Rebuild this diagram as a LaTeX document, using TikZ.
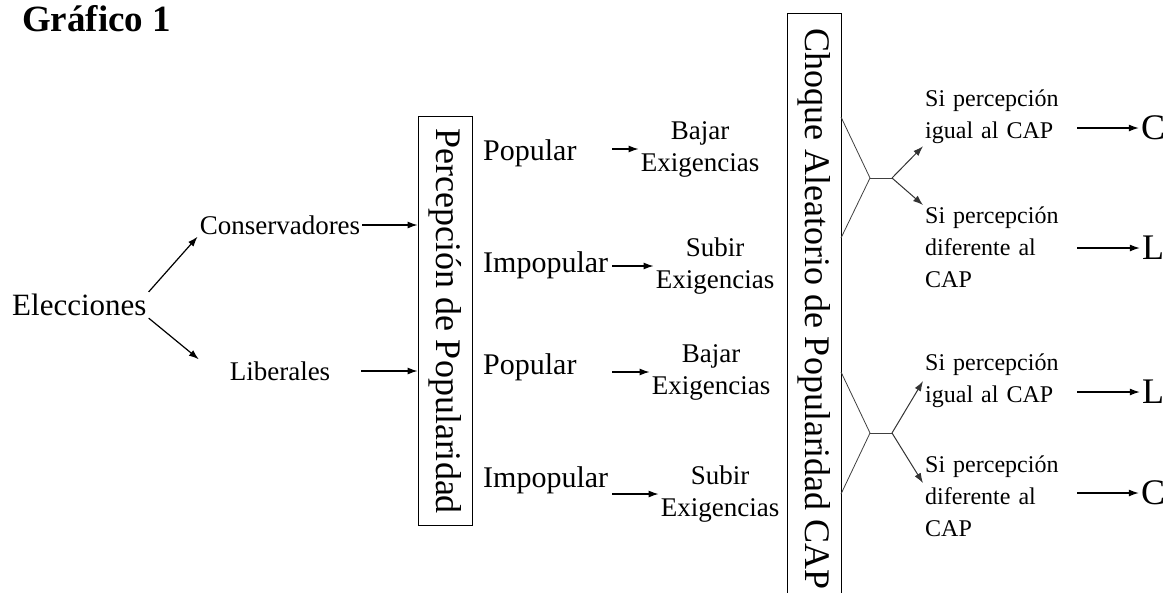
\documentclass[tikz,border=0pt]{standalone}
\usepackage{fontspec}
\setmainfont{Liberation Serif}
\usetikzlibrary{arrows.meta,positioning}

\begin{document}
\begin{tikzpicture}[
    x=1pt, y=-1pt,
    partido/.style={inner sep=2pt, minimum width=162pt, font=\fontsize{27}{32}\selectfont},
    caja/.style={draw, rotate=-90, line width=0.8pt, minimum height=54pt, inner sep=0pt, font=\fontsize{36}{40}\selectfont},
    estado/.style={anchor=west, inner sep=2pt, text width=127pt, align=left, font=\fontsize{30}{36}\selectfont},
    exig/.style={inner sep=2pt, align=center, font=\fontsize{27}{32}\selectfont},
    cond/.style={anchor=north west, inner sep=2pt, text width=150pt, align=left, font=\fontsize{24}{32}\selectfont},
    letra/.style={inner sep=2pt, font=\fontsize{36}{40}\selectfont},
    flecha/.style={-{Latex[length=10pt,width=7pt]}, line width=1.2pt},
    rama/.style={line width=0.8pt, black!75}
]
\useasboundingbox (0,0) rectangle (1172,592);
\clip (0,0) rectangle (1172,592);

% Titulo
\node[anchor=west, inner sep=0pt, font=\fontsize{37}{40}\selectfont\bfseries] (titulo) at (22,19) {Gráfico 1};

% Elecciones
\node[anchor=west, inner sep=2pt, font=\fontsize{31}{36}\selectfont] (elec) at (10,305) {Elecciones};
\node[partido] (cons) at (280,225) {Conservadores};
\node[partido] (lib) at (280,371) {Liberales};

% Percepcion
\node[caja, minimum width=409pt] (perc) at (445,321) {Percepción de Popularidad};

% Estados
\node[estado] (pop1) at (481,153) {Popular};
\node[estado] (imp1) at (481,265) {Impopular};
\node[estado] (pop2) at (481,367) {Popular};
\node[estado] (imp2) at (481,480) {Impopular};

% Exigencias
\node[exig] (baj1) at (700,149) {Bajar\\Exigencias};
\node[exig] (sub1) at (715,266) {Subir\\Exigencias};
\node[exig] (baj2) at (711,372) {Bajar\\Exigencias};
\node[exig] (sub2) at (720,494) {Subir\\Exigencias};

% Choque
\node[caja, minimum width=592pt] (cap) at (814,309) {Choque Aleatorio de Popularidad CAP};

% Condiciones
\node[cond] (igu1) at (923,88) {Si percepción\\igual al CAP};
\node[cond] (dif1) at (923,205) {Si percepción\\diferente al\\CAP};
\node[cond] (igu2) at (923,352) {Si percepción\\igual al CAP};
\node[cond] (dif2) at (923,454) {Si percepción\\diferente al\\CAP};

% Resultados
\node[letra] (res1) at (1153,128) {C};
\node[letra] (res2) at (1153,248) {L};
\node[letra] (res3) at (1153,392) {L};
\node[letra] (res4) at (1153,493) {C};

% Bifurcaciones
\coordinate (b1a) at (841,117);
\coordinate (b1b) at (841,238);
\coordinate (b1) at (870,178);
\coordinate (h1) at (892,178);
\coordinate (b2a) at (841,372);
\coordinate (b2b) at (841,494);
\coordinate (b2) at (870,433);
\coordinate (h2) at (892,433);

\draw[rama] (b1a) -- (b1) -- (b1b);
\draw[rama] (b1) -- (h1);
\draw[rama] (b2a) -- (b2) -- (b2b);
\draw[rama] (b2) -- (h2);

% Flechas - Elecciones
\draw[flecha] (elec.north east) -- (cons.south west);
\draw[flecha] (elec.south east) -- (lib.north west);
\draw[flecha] (cons.east) -- (cons.east -| perc.south);
\draw[flecha] (lib.east) -- (lib.east -| perc.south);

% Flechas - Exigencias
\draw[flecha] (pop1.east |- baj1.west) -- (baj1.west);
\draw[flecha] (imp1.east |- sub1.west) -- (sub1.west);
\draw[flecha] (pop2.east |- baj2.west) -- (baj2.west);
\draw[flecha] (imp2.east |- sub2.west) -- (sub2.west);

% Flechas - Choque
\draw[flecha, black!80, line width=1pt] (h1) -- (igu1.south west);
\draw[flecha, black!80, line width=1pt] (h1) -- (dif1.north west);
\draw[flecha, black!80, line width=1pt] (h2) -- (igu2.west);
\draw[flecha, black!80, line width=1pt] (h2) -- (dif2.170);

% Flechas - Resultados
\draw[flecha] (igu1.east |- res1.west) -- (res1.west);
\draw[flecha] (dif1.east |- res2.west) -- (res2.west);
\draw[flecha] (igu2.east |- res3.west) -- (res3.west);
\draw[flecha] (dif2.east |- res4.west) -- (res4.west);

\end{tikzpicture}
\end{document}
